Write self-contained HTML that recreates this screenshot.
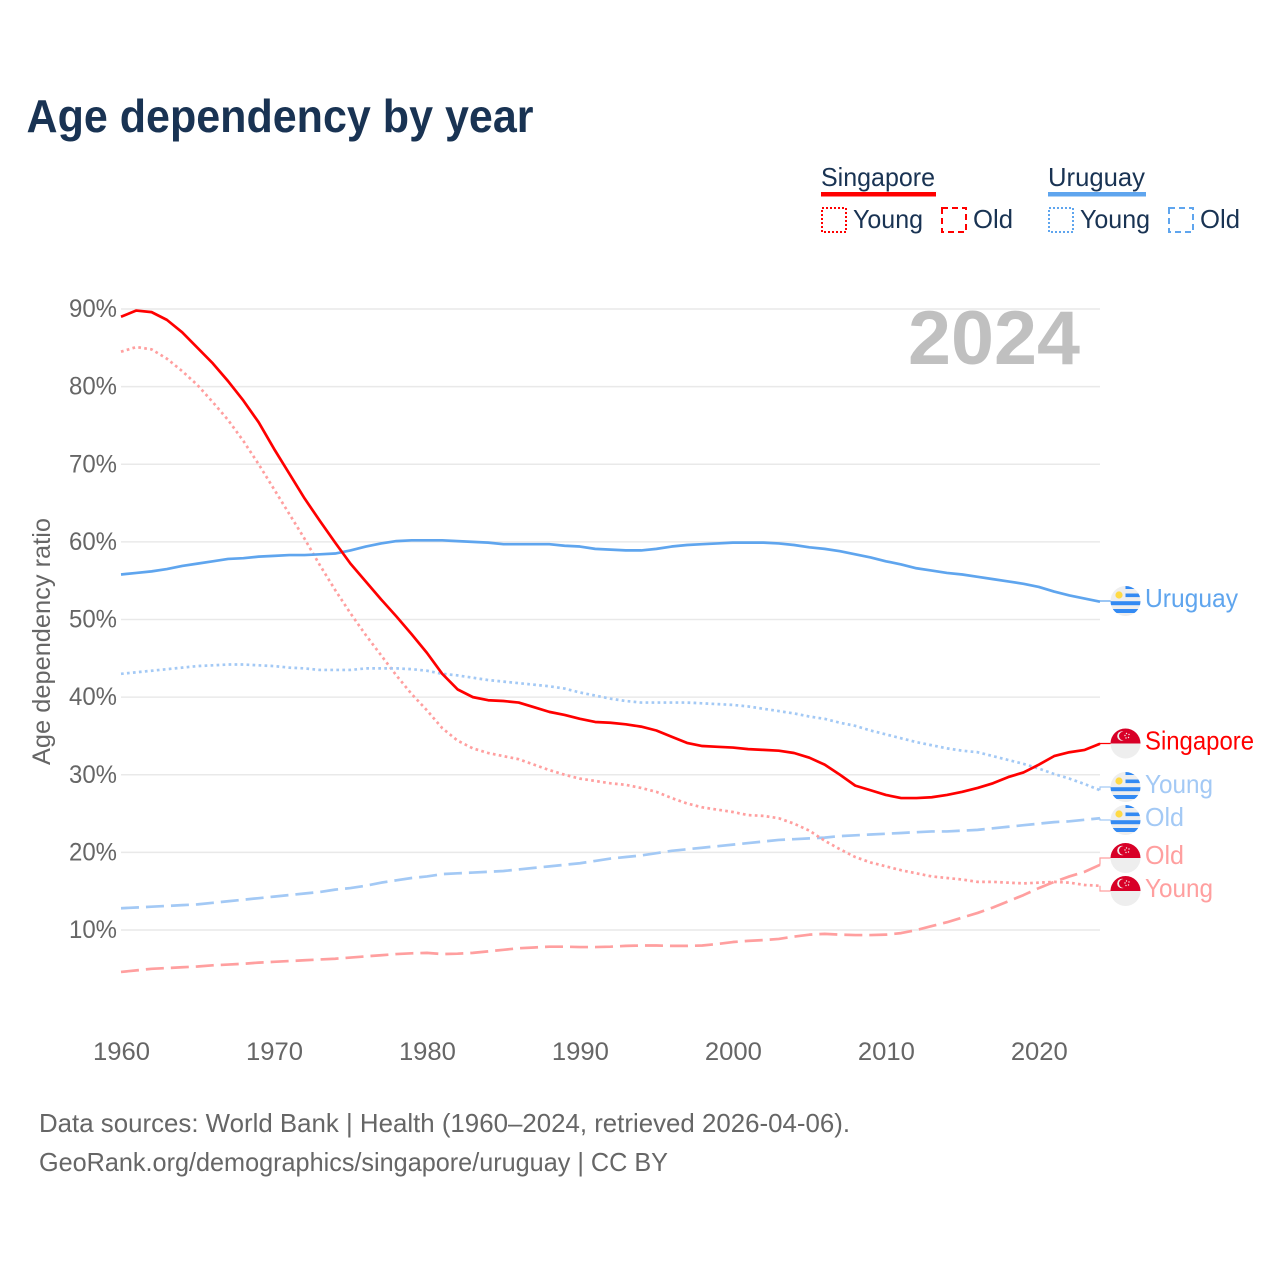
<!DOCTYPE html>
<html lang="en">
<head>
<meta charset="utf-8">
<title>Age dependency by year</title>
<style>
html,body{margin:0;padding:0;background:#fff;}
svg{display:block;}
text{font-family:"Liberation Sans",sans-serif;}
</style>
</head>
<body>
<svg id="chart" xmlns="http://www.w3.org/2000/svg" width="1280" height="1280" viewBox="0 0 1280 1280">
  <defs>
    <clipPath id="flag-clip"><circle cx="0" cy="0" r="15"/></clipPath>
    <g id="flag-uy" clip-path="url(#flag-clip)">
      <rect x="-15" y="-15" width="30" height="30" fill="#eeeeee"/>
      <rect x="0" y="-15" width="15" height="3" fill="#338af3"/>
      <rect x="0" y="-7.5" width="15" height="3.6" fill="#338af3"/>
      <rect x="-15" y="0.2" width="30" height="4" fill="#338af3"/>
      <rect x="-15" y="8" width="30" height="4" fill="#338af3"/>
      <circle cx="-6.5" cy="-6" r="3.6" fill="#ffda44"/>
    </g>
    <g id="flag-sg" clip-path="url(#flag-clip)">
      <rect x="-15" y="-15" width="30" height="30" fill="#eeeeee"/>
      <rect x="-15" y="-15" width="30" height="15" fill="#d80027"/>
      <circle cx="-3.5" cy="-7.5" r="4.8" fill="#eeeeee"/>
      <circle cx="-2" cy="-7.5" r="4.5" fill="#d80027"/>
      <circle cx="1" cy="-10" r="0.7" fill="#eeeeee"/>
      <circle cx="3.5" cy="-9" r="0.7" fill="#eeeeee"/>
      <circle cx="3" cy="-6" r="0.7" fill="#eeeeee"/>
      <circle cx="0.5" cy="-5.5" r="0.7" fill="#eeeeee"/>
      <circle cx="-0.5" cy="-8" r="0.7" fill="#eeeeee"/>
    </g>
  </defs>

  <text x="26.5" y="132" font-size="46" font-weight="700" fill="#193353" textLength="507" lengthAdjust="spacingAndGlyphs">Age dependency by year</text>

  <g>
    <g>
      <text x="821" y="186" font-size="26" fill="#193353" textLength="114" lengthAdjust="spacingAndGlyphs">Singapore</text>
      <rect x="821" y="192" width="115" height="4.5" fill="#ff0000"/>
      <rect x="822" y="208" width="24" height="24" fill="none" stroke="#ff0000" stroke-width="2" stroke-dasharray="2 2"/>
      <text x="853" y="228" font-size="26" fill="#193353" textLength="70" lengthAdjust="spacingAndGlyphs">Young</text>
      <rect x="942" y="208" width="24" height="24" fill="none" stroke="#ff0000" stroke-width="2" stroke-dasharray="6 4"/>
      <text x="973" y="228" font-size="26" fill="#193353" textLength="40" lengthAdjust="spacingAndGlyphs">Old</text>
    </g>
    <g>
      <text x="1048" y="186" font-size="26" fill="#193353" textLength="97" lengthAdjust="spacingAndGlyphs">Uruguay</text>
      <rect x="1048" y="192" width="98" height="4.5" fill="#5fa5ee"/>
      <rect x="1049" y="208" width="24" height="24" fill="none" stroke="#5fa5ee" stroke-width="2" stroke-dasharray="2 2"/>
      <text x="1080" y="228" font-size="26" fill="#193353" textLength="70" lengthAdjust="spacingAndGlyphs">Young</text>
      <rect x="1169" y="208" width="24" height="24" fill="none" stroke="#5fa5ee" stroke-width="2" stroke-dasharray="6 4"/>
      <text x="1200" y="228" font-size="26" fill="#193353" textLength="40" lengthAdjust="spacingAndGlyphs">Old</text>
    </g>
  </g>

  <g id="grid"></g>
  <g id="yticks"></g>
  <g id="xticks"></g>
  <text transform="translate(50,641.5) rotate(-90)" text-anchor="middle" font-size="25" fill="#666666" textLength="247" lengthAdjust="spacingAndGlyphs">Age dependency ratio</text>
  <text x="908" y="364" font-size="76" font-weight="700" fill="#c0c0c0" textLength="172" lengthAdjust="spacingAndGlyphs">2024</text>
  <g id="series"></g>
  <g id="endlabels"></g>

  <text x="39" y="1132" font-size="26" fill="#666666" textLength="811" lengthAdjust="spacingAndGlyphs">Data sources: World Bank | Health (1960–2024, retrieved 2026-04-06).</text>
  <text x="39" y="1171" font-size="26" fill="#666666" textLength="629" lengthAdjust="spacingAndGlyphs">GeoRank.org/demographics/singapore/uruguay | CC BY</text>
</svg>

<script>
var startYear = 1960;
var xTickYears = [1960, 1970, 1980, 1990, 2000, 2010, 2020];
var yTickValues = [10, 20, 30, 40, 50, 60, 70, 80, 90];

var singaporeTotal = [
  89.0, 89.8, 89.6, 88.6, 87.0, 85.0, 83.0, 80.7, 78.2, 75.4,
  72.0, 68.8, 65.6, 62.7, 59.9, 57.2, 54.9, 52.6, 50.4, 48.1,
  45.7, 43.0, 41.0, 40.0, 39.6, 39.5, 39.3, 38.7, 38.1, 37.7,
  37.2, 36.8, 36.7, 36.5, 36.2, 35.7, 34.9, 34.1, 33.7, 33.6,
  33.5, 33.3, 33.2, 33.1, 32.8, 32.2, 31.3, 30.0, 28.6, 28.0,
  27.4, 27.0, 27.0, 27.1, 27.4, 27.8, 28.3, 28.9, 29.7, 30.3,
  31.3, 32.4, 32.9, 33.2, 34.0
];
var singaporeYoung = [
  84.5, 85.1, 84.8, 83.6, 82.0, 80.2, 78.0, 75.7, 73.0, 70.0,
  66.8, 63.6, 60.4, 57.0, 53.8, 50.8, 48.0, 45.4, 42.8, 40.4,
  38.3, 36.0, 34.4, 33.4, 32.8, 32.4, 32.0, 31.3, 30.6, 30.0,
  29.5, 29.2, 28.9, 28.7, 28.3, 27.8, 27.0, 26.3, 25.8, 25.5,
  25.2, 24.8, 24.7, 24.4, 23.7, 22.8, 21.5, 20.4, 19.4, 18.7,
  18.2, 17.7, 17.3, 16.9, 16.7, 16.5, 16.2, 16.2, 16.1, 16.0,
  16.1, 16.2, 16.1, 15.8, 15.7
];
var singaporeOld = [
  4.6, 4.8, 5.0, 5.1, 5.2, 5.3, 5.45, 5.55, 5.65, 5.8,
  5.9, 6.0, 6.1, 6.2, 6.3, 6.45, 6.6, 6.75, 6.9, 7.0,
  7.05, 6.9, 6.95, 7.05, 7.25, 7.45, 7.65, 7.75, 7.85, 7.85,
  7.8, 7.8, 7.85, 7.95, 8.0, 8.0, 7.95, 7.95, 8.0, 8.2,
  8.45, 8.6, 8.7, 8.85, 9.15, 9.4, 9.5, 9.4, 9.35, 9.35,
  9.4, 9.6, 10.0, 10.5, 11.0, 11.6, 12.2, 12.9, 13.7, 14.5,
  15.4, 16.2, 16.9, 17.5, 18.4
];
var uruguayTotal = [
  55.8, 56.0, 56.2, 56.5, 56.9, 57.2, 57.5, 57.8, 57.9, 58.1,
  58.2, 58.3, 58.3, 58.4, 58.5, 58.9, 59.4, 59.8, 60.1, 60.2,
  60.2, 60.2, 60.1, 60.0, 59.9, 59.7, 59.7, 59.7, 59.7, 59.5,
  59.4, 59.1, 59.0, 58.9, 58.9, 59.1, 59.4, 59.6, 59.7, 59.8,
  59.9, 59.9, 59.9, 59.8, 59.6, 59.3, 59.1, 58.8, 58.4, 58.0,
  57.5, 57.1, 56.6, 56.3, 56.0, 55.8, 55.5, 55.2, 54.9, 54.6,
  54.2, 53.6, 53.1, 52.7, 52.3
];
var uruguayYoung = [
  43.0, 43.2, 43.4, 43.6, 43.8, 44.0, 44.1, 44.2, 44.2, 44.1,
  44.0, 43.8, 43.7, 43.5, 43.5, 43.5, 43.7, 43.7, 43.7, 43.6,
  43.4, 43.0, 42.8, 42.5, 42.2, 42.0, 41.8, 41.6, 41.4, 41.1,
  40.6, 40.2, 39.8, 39.5, 39.3, 39.3, 39.3, 39.3, 39.2, 39.1,
  39.0, 38.8, 38.5, 38.2, 37.9, 37.5, 37.2, 36.7, 36.3, 35.7,
  35.2, 34.7, 34.2, 33.8, 33.4, 33.1, 32.9, 32.4, 31.9, 31.4,
  30.8, 30.1, 29.5, 28.8, 28.0
];
var uruguayOld = [
  12.8, 12.9, 13.0, 13.1, 13.2, 13.3, 13.5, 13.7, 13.9, 14.1,
  14.3, 14.5, 14.7, 14.9, 15.2, 15.4, 15.7, 16.1, 16.4, 16.7,
  16.9, 17.2, 17.3, 17.4, 17.5, 17.6, 17.8, 18.0, 18.2, 18.4,
  18.6, 18.9, 19.2, 19.4, 19.6, 19.9, 20.2, 20.4, 20.6, 20.8,
  21.0, 21.2, 21.4, 21.6, 21.7, 21.8, 21.9, 22.1, 22.2, 22.3,
  22.4, 22.5, 22.6, 22.7, 22.7, 22.8, 22.9, 23.1, 23.3, 23.5,
  23.7, 23.9, 24.0, 24.2, 24.4
];

var NS = 'http://www.w3.org/2000/svg';
function xScale(year) { return 121 + (year - 1960) * (1100 - 121) / 64; }
function yScale(value) { return 930 - (value - 10) * (930 - 309) / 80; }
function mk(tag, attrs, parent) {
  var el = document.createElementNS(NS, tag);
  for (var k in attrs) { el.setAttribute(k, attrs[k]); }
  parent.appendChild(el);
  return el;
}

var gridG = document.getElementById('grid');
var yG = document.getElementById('yticks');
yTickValues.forEach(function (v) {
  var line = mk('line', { x1: 121, x2: 1100, y1: yScale(v), y2: yScale(v), stroke: '#e9e9e9', 'stroke-width': 1.5 }, gridG);
  
  
  var t = mk('text', { x: 117, y: yScale(v) + 8, 'text-anchor': 'end', 'font-size': 25, fill: '#666666', textLength: 48, lengthAdjust: 'spacingAndGlyphs' }, yG);
  
  
  t.textContent = v + '%';
});

var xG = document.getElementById('xticks');
xTickYears.forEach(function (yr) {
  var t = mk('text', { x: xScale(yr) + 0.5, y: 1060, 'text-anchor': 'middle', 'font-size': 25, fill: '#666666', textLength: 57, lengthAdjust: 'spacingAndGlyphs' }, xG);
  
  
  t.textContent = yr;
});

var seriesG = document.getElementById('series');
function drawSeries(values, color, dash, name) {
  var d = values.map(function (v, i) {
    return (i ? 'L' : 'M') + xScale(startYear + i).toFixed(2) + ' ' + yScale(v).toFixed(2);
  }).join(' ');
  var attrs = { d: d, fill: 'none', stroke: color, 'stroke-width': 2.7, 'stroke-linejoin': 'round' };
  if (dash) { attrs['stroke-dasharray'] = dash; }
  var p = mk('path', attrs, seriesG);
  
  
}
var UY = '#5fa5ee', UYL = '#a3c9f5', SG = '#ff0000', SGL = '#ff9f9f';
drawSeries(singaporeOld, SGL, '18 7', 'line-singapore-old');
drawSeries(uruguayOld, UYL, '18 7', 'line-uruguay-old');
drawSeries(singaporeYoung, SGL, '2.7 3.3', 'line-singapore-young');
drawSeries(uruguayYoung, UYL, '2.7 3.3', 'line-uruguay-young');
drawSeries(uruguayTotal, UY, '', 'line-uruguay-total');
drawSeries(singaporeTotal, SG, '', 'line-singapore-total');

var labelsG = document.getElementById('endlabels');
function drawEndLabel(values, flag, color, text, labelY, width, name) {
  var last = yScale(values[values.length - 1]);
  var conn = mk('path', { d: 'M1100 ' + last.toFixed(1) + ' V' + labelY + ' H1111', fill: 'none', stroke: color, 'stroke-width': 1.2 }, labelsG);
  
  
  var u = mk('use', { href: '#' + flag, transform: 'translate(1125.5,' + labelY + ')' }, labelsG);
  
  
  var t = mk('text', { x: 1145, y: labelY + 6, 'font-size': 26, fill: color, textLength: width, lengthAdjust: 'spacingAndGlyphs' }, labelsG);
  
  
  t.textContent = text;
}
drawEndLabel(uruguayTotal, 'flag-uy', UY, 'Uruguay', 601, 93, 'uruguay-total');
drawEndLabel(singaporeTotal, 'flag-sg', SG, 'Singapore', 743.5, 109, 'singapore-total');
drawEndLabel(uruguayYoung, 'flag-uy', UYL, 'Young', 787, 68, 'uruguay-young');
drawEndLabel(uruguayOld, 'flag-uy', UYL, 'Old', 820, 39, 'uruguay-old');
drawEndLabel(singaporeOld, 'flag-sg', SGL, 'Old', 858, 39, 'singapore-old');
drawEndLabel(singaporeYoung, 'flag-sg', SGL, 'Young', 891, 68, 'singapore-young');
</script>
</body>
</html>
